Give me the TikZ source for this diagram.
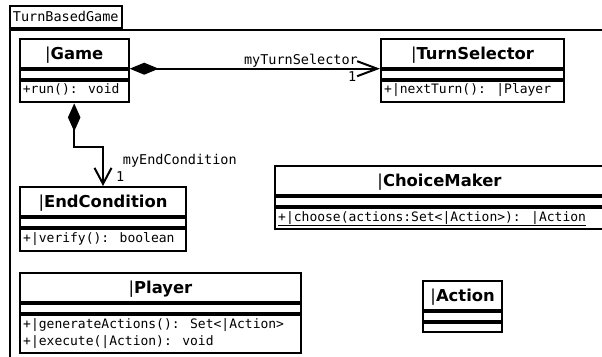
\documentclass[tikz,border=0pt]{standalone}
\usepackage{fontspec}
\setmainfont{DejaVu Sans}
\newfontfamily\umlmono{DejaVu Sans Mono}
\usetikzlibrary{arrows.meta}

\tikzset{
  umlline/.style={line width=2pt},
  box/.style={draw, umlline, rectangle, inner sep=0pt},
  titlebox/.style={box, minimum height=29pt,
    font=\fontsize{16.4}{19}\selectfont\bfseries, text height=14pt, text depth=1.5pt},
  attrbox/.style={box, minimum height=9pt},
  opsbox/.style={box},
  member/.style={font=\umlmono\fontsize{13}{17}\selectfont, inner sep=0pt, anchor=base west},
  rolelabel/.style={font=\umlmono\fontsize{13.5}{16}\selectfont, inner sep=0pt},
  pkgtab/.style={box, font=\umlmono\fontsize{13.5}{16}\selectfont,
    text height=10pt, text depth=2pt},
  composition/.style={umlline, line join=miter},
}

% class box: id, x, y, width, title, operations height
\newcommand\umlbox[6]{%
  \node[titlebox, minimum width=#4, anchor=north west] (#1) at (#2,#3) {#5};
  \node[attrbox, minimum width=#4, anchor=north west] (#1-a) at (#1.south west) {};
  \node[opsbox, minimum width=#4, minimum height=#6, anchor=north west] (#1-o) at (#1-a.south west) {};
}
\newcommand\thinbar{{\mdseries|}}

\begin{document}
\begin{tikzpicture}[x=1pt, y=-1pt]
  \useasboundingbox (0,0) rectangle (602,356);
  \clip (0,0) rectangle (602,356);

  % package frame
  \node[pkgtab, minimum width=111.5pt, minimum height=22pt, anchor=north west]
    (pkg) at (9,5) {TurnBasedGame};
  \node[box, minimum width=700pt, minimum height=400pt, anchor=north west]
    (pkgbody) at (pkg.south west) {};

  % classes
  \umlbox{game}{18.7}{37.7}{109pt}{\thinbar Game}{21.7pt}
  \node[member] (game-m1) at ([xshift=4pt,yshift=-14pt]game-o.north west) {+run(): void};

  \umlbox{turnsel}{380}{37.7}{183pt}{\thinbar TurnSelector}{21.7pt}
  \node[member] (turnsel-m1) at ([xshift=4pt,yshift=-14pt]turnsel-o.north west) {+|nextTurn(): |Player};

  \umlbox{endcond}{19}{186}{166pt}{\thinbar EndCondition}{21.7pt}
  \node[member] (endcond-m1) at ([xshift=4pt,yshift=-14pt]endcond-o.north west) {+|verify(): boolean};

  \umlbox{choice}{274}{165}{329pt}{\thinbar ChoiceMaker}{21pt}
  \node[member] (choice-m1) at ([xshift=4pt,yshift=-14pt]choice-o.north west)
    {\underline{+|choose(actions:Set<|Action>): |Action}};

  \umlbox{player}{19}{271.7}{281pt}{\thinbar Player}{38.4pt}
  \node[member] (player-m1) at ([xshift=4pt,yshift=-14.5pt]player-o.north west) {+|generateActions(): Set<|Action>};
  \node[member] (player-m2) at ([xshift=4pt,yshift=-32pt]player-o.north west) {+|execute(|Action): void};

  \umlbox{action}{422.3}{280}{78.7pt}{\thinbar Action}{9pt}

  % compositions
  \draw[composition, {Diamond[length=29pt,width=12pt]}-{Straight Barb[length=20pt,width=15pt]}]
    (game.south east) -- (turnsel.south west);
  \node[rolelabel, anchor=base east] (turnsel-role) at ([xshift=-22pt,yshift=4pt]turnsel.south west) {myTurnSelector};
  \node[rolelabel, anchor=base east] (turnsel-mult) at ([xshift=-23.5pt,yshift=-13pt]turnsel.south west) {1};

  \draw[composition, {Diamond[length=28pt,width=12.5pt]}-{Straight Barb[length=16pt,width=17pt]}]
    (game-o.south) -- ++(0,43.3) -| (endcond.north);
  \node[rolelabel, anchor=base west] (endcond-role) at ([xshift=19.7pt,yshift=21.7pt]endcond.north) {myEndCondition};
  \node[rolelabel, anchor=base west] (endcond-mult) at ([xshift=13pt,yshift=5pt]endcond.north) {1};
\end{tikzpicture}
\end{document}
